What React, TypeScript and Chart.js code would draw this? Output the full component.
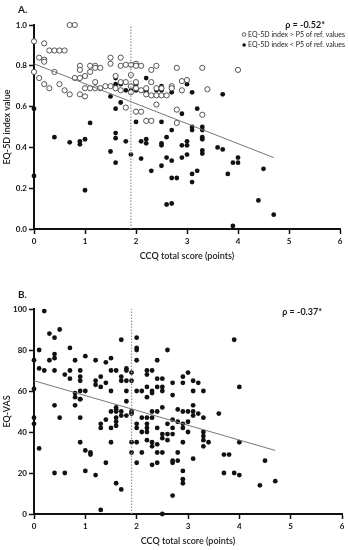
import React, { useEffect, useRef } from "react";
import { Chart, registerables } from "chart.js";
Chart.register(...registerables);

// ---------- Panel A data ----------
const xTickValues = [0, 1, 2, 3, 4, 5, 6];
const aYTicks = [0, 0.2, 0.4, 0.6, 0.8, 1.0];
const bYTicks = [0, 20, 40, 60, 80, 100];
const cutoffX = 1.9;

const aAbove: [number, number][] = [
  [0.0, 0.92], [0.0, 0.77], [0.1, 0.84], [0.1, 0.74], [0.2, 0.91], [0.2, 0.83], [0.2, 0.82], [0.2, 0.71],
  [0.3, 0.875], [0.3, 0.69], [0.4, 0.875], [0.4, 0.77], [0.5, 0.875], [0.5, 0.71], [0.6, 0.875], [0.6, 0.68],
  [0.7, 1.0], [0.7, 0.66], [0.8, 1.0], [0.8, 0.74], [0.9, 0.8], [0.9, 0.78], [0.9, 0.74], [0.9, 0.66],
  [1.0, 0.75], [1.0, 0.65], [1.0, 0.69], [1.1, 0.8], [1.1, 0.69], [1.1, 0.77], [1.2, 0.8], [1.2, 0.79],
  [1.2, 0.72], [1.2, 0.69], [1.3, 0.79], [1.3, 0.69], [1.4, 0.7], [1.5, 0.84], [1.5, 0.81], [1.5, 0.7],
  [1.6, 0.75], [1.6, 0.69], [1.7, 0.84], [1.7, 0.8], [1.7, 0.72], [1.7, 0.68], [1.8, 0.805], [1.8, 0.72],
  [1.8, 0.595], [1.9, 0.805], [1.9, 0.755], [1.9, 0.7], [1.9, 0.67], [2.0, 0.81], [2.0, 0.8], [2.0, 0.72],
  [2.0, 0.69], [2.0, 0.575], [2.1, 0.8], [2.1, 0.68], [2.1, 0.575], [2.2, 0.69], [2.2, 0.66], [2.2, 0.53],
  [2.3, 0.78], [2.3, 0.72], [2.3, 0.655], [2.3, 0.53], [2.4, 0.8], [2.4, 0.69], [2.4, 0.655], [2.4, 0.61],
  [2.5, 0.69], [2.5, 0.655], [2.6, 0.655], [2.7, 0.7], [2.7, 0.69], [2.8, 0.79], [2.8, 0.585], [2.8, 0.52],
  [2.9, 0.725], [2.9, 0.68], [3.0, 0.73], [3.3, 0.79], [3.3, 0.56], [3.4, 0.685], [4.0, 0.78],
];

const aBelow: [number, number][] = [
  [0.0, 0.59], [0.0, 0.26], [0.4, 0.45], [0.7, 0.425], [0.9, 0.43], [0.9, 0.415], [1.0, 0.44], [1.0, 0.19],
  [1.1, 0.52], [1.5, 0.65], [1.5, 0.38], [1.6, 0.74], [1.6, 0.71], [1.6, 0.59], [1.6, 0.47], [1.6, 0.445],
  [1.6, 0.325], [1.7, 0.71], [1.7, 0.62], [1.8, 0.68], [1.8, 0.43], [1.9, 0.68], [1.9, 0.365], [2.0, 0.71],
  [2.0, 0.68], [2.0, 0.525], [2.1, 0.43], [2.1, 0.345], [2.2, 0.74], [2.2, 0.68], [2.2, 0.67], [2.2, 0.44],
  [2.2, 0.42], [2.3, 0.285], [2.4, 0.68], [2.5, 0.7], [2.5, 0.68], [2.5, 0.525], [2.5, 0.42], [2.5, 0.41],
  [2.5, 0.31], [2.6, 0.45], [2.6, 0.35], [2.6, 0.12], [2.7, 0.69], [2.7, 0.67], [2.7, 0.485], [2.7, 0.335],
  [2.7, 0.25], [2.7, 0.125], [2.8, 0.25], [2.9, 0.565], [2.9, 0.41], [2.9, 0.35], [3.0, 0.71], [3.0, 0.43],
  [3.0, 0.41], [3.0, 0.365], [3.1, 0.67], [3.1, 0.5], [3.1, 0.485], [3.1, 0.27], [3.1, 0.23], [3.2, 0.59],
  [3.2, 0.285], [3.3, 0.5], [3.3, 0.485], [3.3, 0.45], [3.3, 0.44], [3.3, 0.385], [3.3, 0.37], [3.6, 0.4],
  [3.7, 0.66], [3.7, 0.39], [3.8, 0.27], [3.9, 0.325], [3.9, 0.015], [4.0, 0.35], [4.0, 0.325], [4.4, 0.14],
  [4.5, 0.295], [4.7, 0.07],
];

const aFit: [number, number][] = [[0, 0.81], [4.7, 0.35]];

// ---------- Panel B data ----------
const bVas: [number, number][] = [
  [0.2, 99], [0.1, 80], [0.0, 75], [0.0, 61], [0.1, 71], [0.2, 70], [0.3, 88], [0.4, 86], [0.5, 90],
  [0.3, 75], [0.4, 78], [0.4, 76], [0.4, 70], [0.6, 68], [0.7, 81], [0.7, 70], [0.7, 66], [0.8, 75],
  [0.9, 70], [0.9, 67], [0.9, 65], [0.8, 59], [0.8, 57], [0.9, 60], [0.9, 56], [1.0, 60], [1.0, 77],
  [1.2, 75], [1.2, 65], [1.2, 63], [1.3, 67], [1.3, 62], [1.4, 74], [1.4, 64], [1.5, 76], [1.5, 70],
  [1.5, 60], [1.6, 70], [1.7, 85], [1.7, 67], [1.7, 65], [1.8, 71], [1.8, 70], [1.8, 65], [1.8, 60],
  [1.9, 69], [1.9, 65], [2.0, 86], [2.0, 81], [2.0, 80], [2.0, 75], [2.0, 60], [2.1, 60], [2.2, 70],
  [2.2, 68], [2.2, 62], [2.2, 57], [2.3, 70], [2.3, 60], [2.3, 59], [2.4, 75], [2.4, 66], [2.4, 62],
  [2.5, 66], [2.5, 62], [2.5, 60], [2.6, 80], [2.7, 64], [2.7, 58], [2.9, 67], [2.9, 64], [3.0, 69],
  [3.1, 65], [3.1, 60], [3.2, 64], [3.3, 60], [3.9, 85], [4.0, 62], [0.4, 53], [0.8, 53], [1.6, 52],
  [2.5, 52], [2.8, 51], [3.1, 53],
  [0.0, 47], [0.0, 44], [0.1, 32], [0.5, 47], [0.4, 20], [0.6, 20], [0.9, 56], [0.9, 47], [0.9, 35],
  [1.0, 31], [1.0, 21], [1.1, 30], [1.1, 29], [1.2, 19], [1.3, 44], [1.3, 42], [1.3, 2], [1.4, 46],
  [1.4, 25], [1.5, 50], [1.5, 42], [1.5, 35], [1.6, 51], [1.6, 50], [1.6, 47], [1.6, 45], [1.6, 43],
  [1.6, 15], [1.7, 50], [1.7, 48], [1.7, 12], [1.8, 55], [1.8, 48], [1.9, 50], [1.9, 49], [1.9, 35],
  [1.9, 30], [2.0, 44], [2.0, 42], [2.0, 35], [2.0, 25], [2.1, 47], [2.1, 40], [2.1, 30], [2.2, 47],
  [2.2, 44], [2.2, 42], [2.2, 40], [2.2, 36], [2.3, 50], [2.3, 47], [2.3, 35], [2.3, 33], [2.3, 24],
  [2.4, 50], [2.4, 42], [2.4, 34], [2.4, 30], [2.4, 25], [2.5, 39], [2.5, 37], [2.5, 30], [2.5, 0],
  [2.6, 44], [2.6, 39], [2.6, 36], [2.7, 46], [2.7, 42], [2.7, 39], [2.7, 26], [2.7, 25], [2.7, 9],
  [2.8, 45], [2.8, 30], [2.8, 26], [2.9, 50], [2.9, 44], [2.9, 42], [2.9, 35], [2.9, 21], [2.9, 17],
  [2.9, 15], [3.0, 50], [3.0, 45], [3.0, 40], [3.1, 50], [3.1, 48], [3.1, 27], [3.2, 49], [3.3, 47],
  [3.3, 40], [3.3, 38], [3.3, 36], [3.3, 33], [3.4, 35], [3.6, 49], [3.7, 29], [3.8, 29], [3.7, 20],
  [3.9, 20], [4.0, 35], [4.0, 19], [4.4, 14], [4.5, 26], [4.7, 16],
];

const bFit: [number, number][] = [[0, 65], [4.7, 31]];

const FONT = "Lato, 'Open Sans', sans-serif";
const INK = "#111";
const toPts = (arr: [number, number][]) => arr.map(([x, y]) => ({ x, y }));

type PanelText = {
  label: string;
  labelY: number;
  rho: string;
  rhoX: number;
  rhoY: number;
  legend: boolean;
};

function makeTextPlugin(t: PanelText) {
  return {
    id: "panelText",
    afterDraw(chart: any) {
      const ctx = chart.ctx as CanvasRenderingContext2D;
      ctx.save();
      ctx.fillStyle = "#1a1a1a";
      ctx.textBaseline = "middle";
      ctx.textAlign = "left";
      ctx.font = `bold 10px ${FONT}`;
      ctx.fillText(t.label, 18, t.labelY);
      ctx.textAlign = "right";
      ctx.font = `bold 9px ${FONT}`;
      ctx.fillText(t.rho, t.rhoX, t.rhoY);
      if (t.legend) {
        ctx.font = `7px ${FONT}`;
        const lines = [
          { text: "EQ-5D index > P5 of ref. values", y: 34.5, open: true },
          { text: "EQ-5D index < P5 of ref. values", y: 45, open: false },
        ];
        for (const l of lines) {
          ctx.textAlign = "right";
          ctx.fillStyle = "#222";
          ctx.fillText(l.text, 345, l.y);
          const w = ctx.measureText(l.text).width;
          const cx = 345 - w - 4;
          ctx.beginPath();
          ctx.arc(cx, l.y, 1.8, 0, Math.PI * 2);
          if (l.open) {
            ctx.strokeStyle = "#333";
            ctx.lineWidth = 0.8;
            ctx.stroke();
          } else {
            ctx.fillStyle = INK;
            ctx.fill();
          }
        }
      }
      ctx.restore();
    },
  };
}

function scaleOpts(
  axis: "x" | "y",
  ticks: number[],
  fmt: (v: number) => string,
  title: string,
  size: number,
  titlePad: any
) {
  return {
    type: "linear",
    position: axis === "x" ? "bottom" : "left",
    min: ticks[0],
    max: ticks[ticks.length - 1],
    afterBuildTicks: (s: any) => {
      s.ticks = ticks.map((v) => ({ value: v }));
    },
    afterFit: (s: any) => {
      if (axis === "x") s.height = size;
      else s.width = size;
    },
    grid: {
      display: true,
      drawOnChartArea: false,
      drawTicks: true,
      tickLength: 5,
      tickWidth: 1.5,
      color: INK,
    },
    border: { display: true, color: INK, width: 2 },
    ticks: {
      padding: axis === "x" ? 3 : 2,
      color: INK,
      font: { family: FONT, size: 8, weight: "bold" },
      maxRotation: 0,
      autoSkip: false,
      callback: (v: any) => fmt(Number(v)),
    },
    title: {
      display: true,
      text: title,
      color: "#1a1a1a",
      font: { family: FONT, size: 9, weight: "600" },
      padding: titlePad,
    },
  };
}

function ScatterPanel(props: {
  top: number;
  height: number;
  padding: any;
  xAxisH: number;
  xTitlePad: any;
  yTicks: number[];
  yFmt: (v: number) => string;
  yTitle: string;
  datasets: any[];
  text: PanelText;
}) {
  const ref = useRef<HTMLCanvasElement>(null);
  useEffect(() => {
    if (!ref.current) return;
    const chart = new Chart(ref.current, {
      type: "scatter",
      data: { datasets: props.datasets },
      options: {
        animation: false,
        responsive: false,
        maintainAspectRatio: false,
        layout: { padding: props.padding },
        plugins: { legend: { display: false }, tooltip: { enabled: false } },
        scales: {
          x: scaleOpts("x", xTickValues, (v) => String(v), "CCQ total score (points)", props.xAxisH, props.xTitlePad),
          y: scaleOpts("y", props.yTicks, props.yFmt, props.yTitle, 34, { top: 2, bottom: 0 }),
        } as any,
      },
      plugins: [makeTextPlugin(props.text)],
    } as any);
    return () => chart.destroy();
  }, []);
  return (
    <canvas
      ref={ref}
      width={348}
      height={props.height}
      style={{ position: "absolute", left: 0, top: props.top, width: 348, height: props.height }}
    />
  );
}

const openStyle = {
  clip: false,
  pointRadius: 2.6,
  pointBackgroundColor: "#fff",
  pointBorderColor: "#444",
  pointBorderWidth: 0.9,
};
const filledStyle = {
  clip: false,
  pointRadius: 2.4,
  pointBackgroundColor: INK,
  pointBorderColor: INK,
  pointBorderWidth: 0,
};
const fitStyle = {
  showLine: true,
  borderColor: "#777",
  borderWidth: 1,
  pointRadius: 0,
};
const cutStyle = {
  showLine: true,
  borderColor: "#999",
  borderWidth: 1.3,
  borderDash: [1.5, 1.5],
  pointRadius: 0,
};

export default function App() {
  const aDatasets = [
    { data: [{ x: cutoffX, y: aYTicks[0] }, { x: cutoffX, y: aYTicks[aYTicks.length - 1] }], ...cutStyle },
    { data: toPts(aFit), ...fitStyle },
    { data: toPts(aAbove), ...openStyle },
    { data: toPts(aBelow), ...filledStyle },
  ];
  const bDatasets = [
    { data: [{ x: cutoffX, y: bYTicks[0] }, { x: cutoffX, y: bYTicks[bYTicks.length - 1] }], ...cutStyle },
    { data: toPts(bFit), ...fitStyle },
    { data: toPts(bVas), ...filledStyle },
  ];
  return (
    <div style={{ position: "absolute", left: 0, top: 0, width: 348, height: 550, background: "#fff" }}>
      <ScatterPanel
        top={0}
        height={272}
        padding={{ left: 0, right: 8, top: 25, bottom: 0 }}
        xAxisH={43}
        xTitlePad={{ top: 0, bottom: 11 }}
        yTicks={aYTicks}
        yFmt={(v) => v.toFixed(1)}
        yTitle="EQ-5D index value"
        datasets={aDatasets}
        text={{ label: "A.", labelY: 10, rho: "ρ = -0.52*", rhoX: 325, rhoY: 25, legend: true }}
      />
      <ScatterPanel
        top={272}
        height={278}
        padding={{ left: 0, right: 6, top: 37, bottom: 0 }}
        xAxisH={36}
        xTitlePad={{ top: 0, bottom: 4 }}
        yTicks={bYTicks}
        yFmt={(v) => String(Math.round(v))}
        yTitle="EQ-VAS"
        datasets={bDatasets}
        text={{ label: "B.", labelY: 23, rho: "ρ = -0.37*", rhoX: 322, rhoY: 40, legend: false }}
      />
    </div>
  );
}
